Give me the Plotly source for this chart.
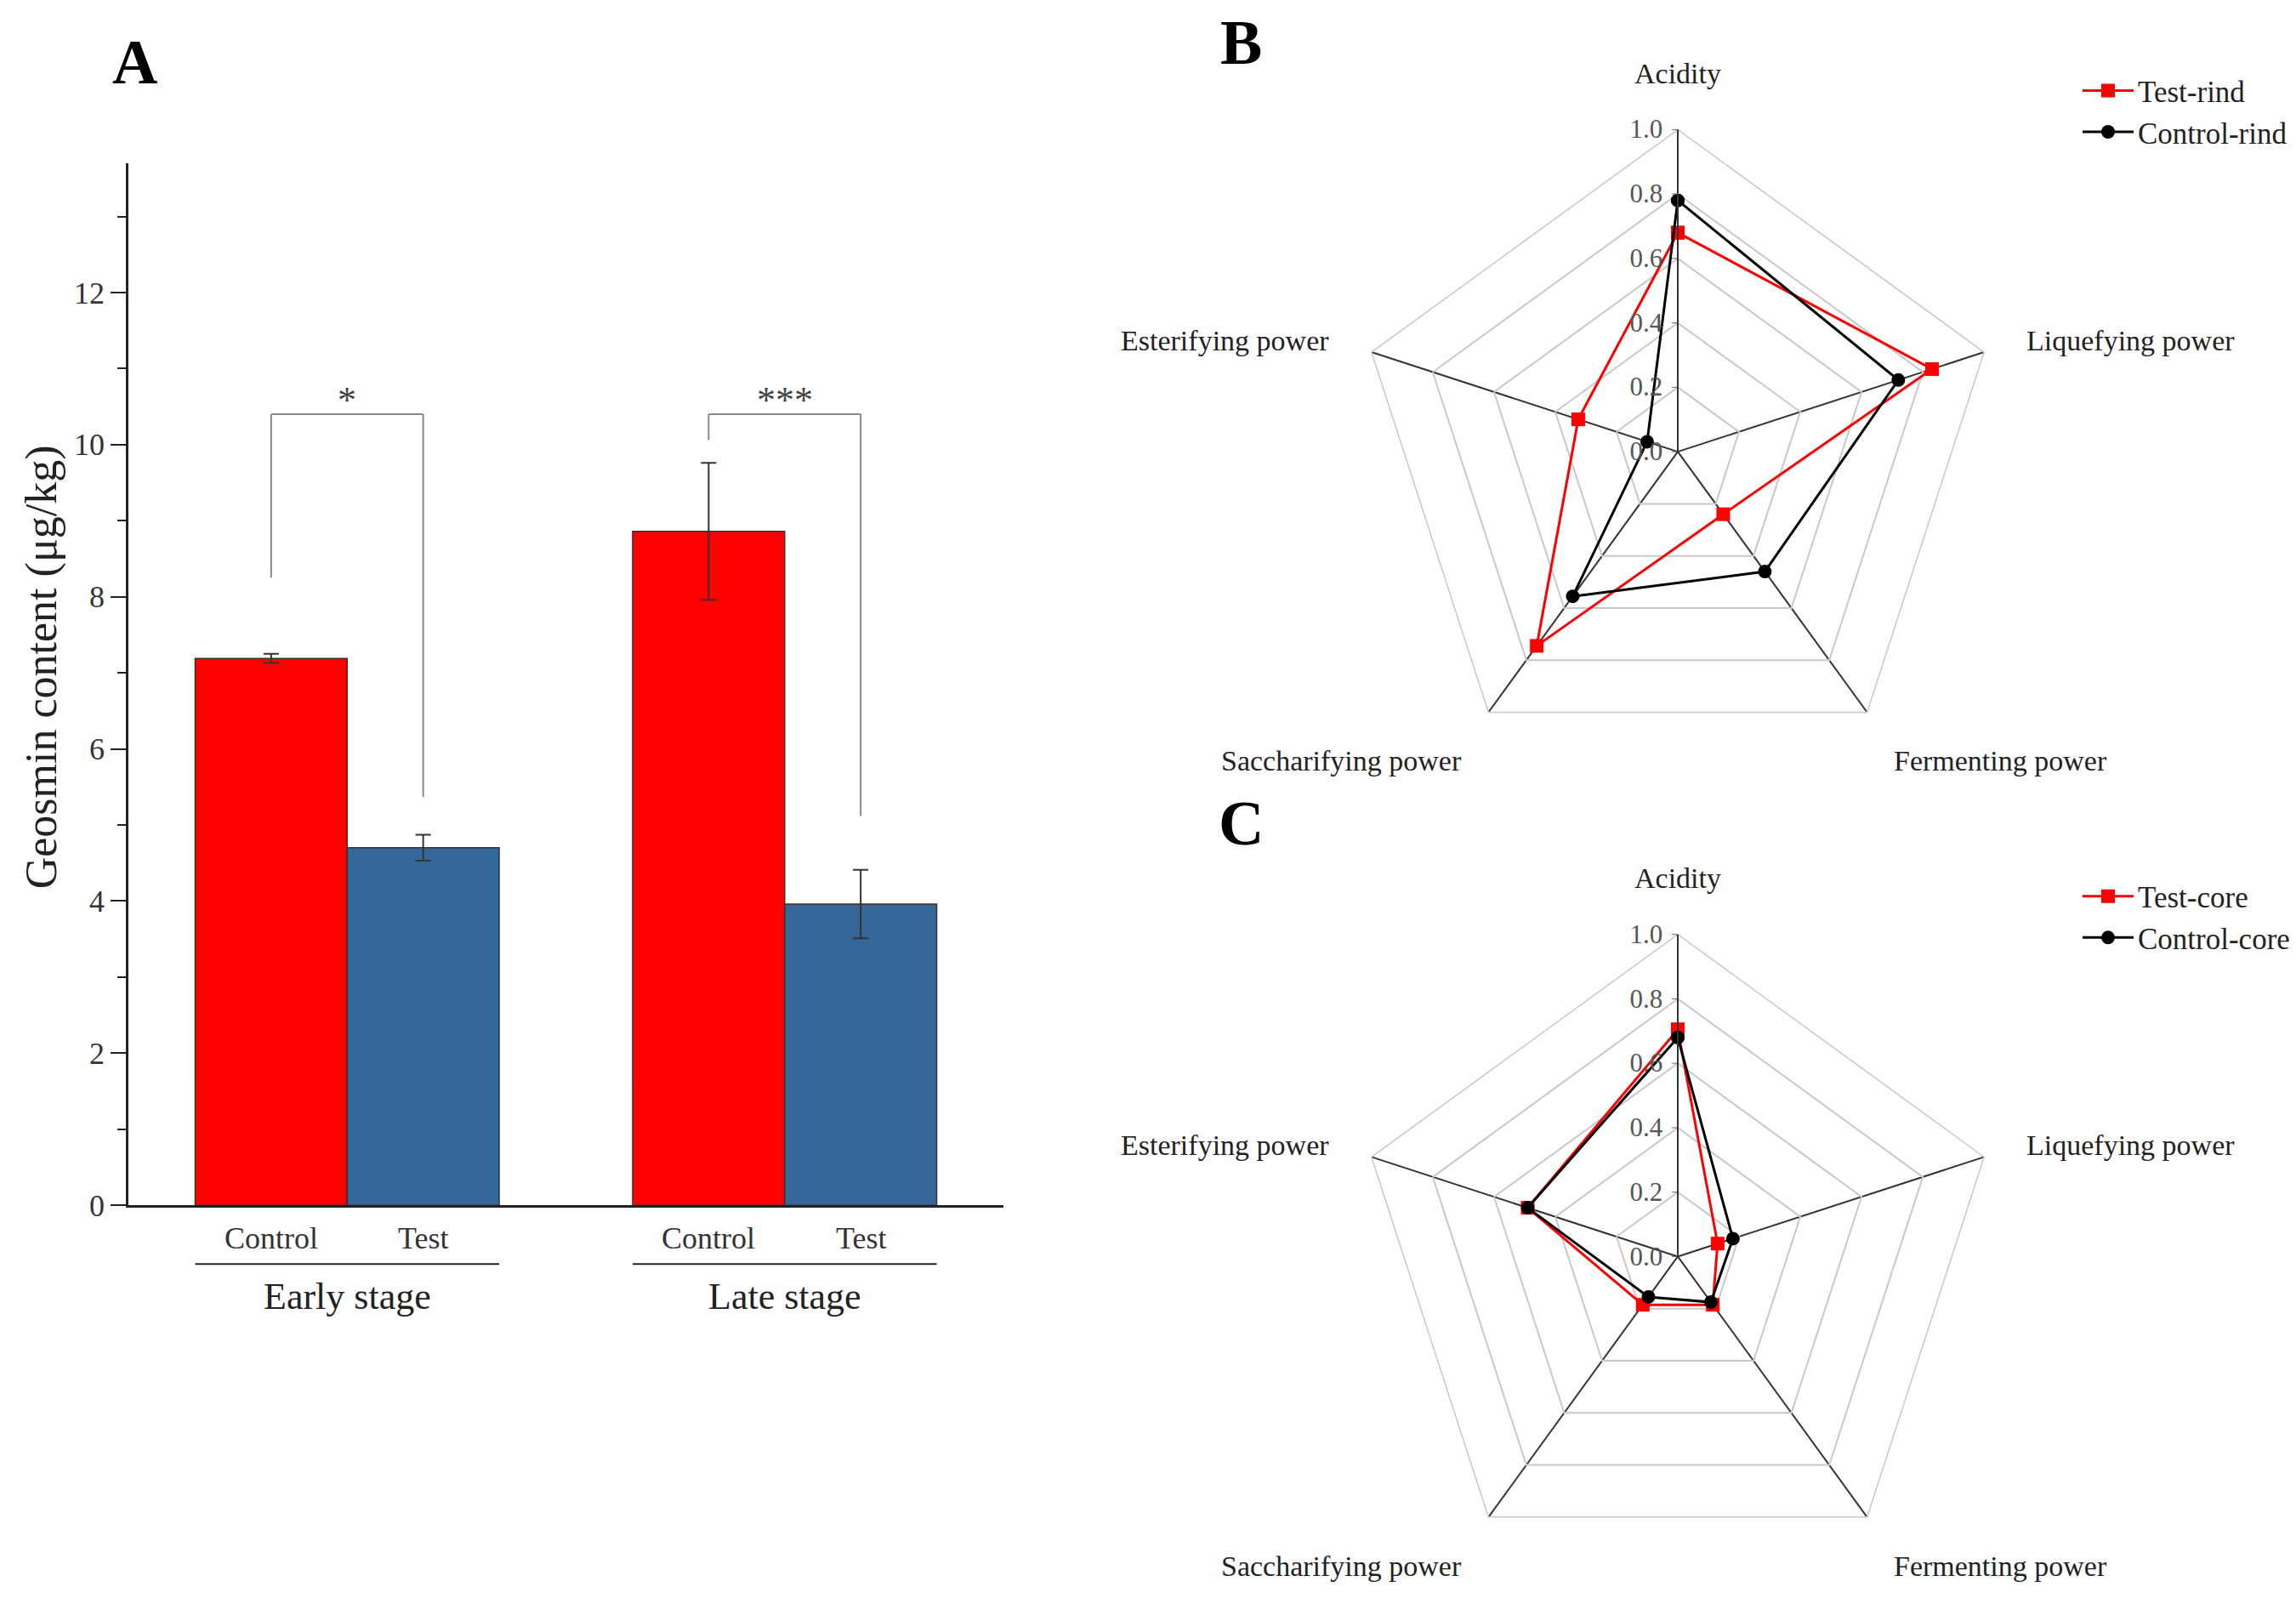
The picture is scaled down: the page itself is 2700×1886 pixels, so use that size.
import math
import plotly.graph_objects as go

W, H = 2700, 1886
FONT = "Liberation Serif"

# ---------------- Panel A data ----------------
stages = ["Early stage", "Late stage"]
treatments = ["Control", "Test"]
control_mean = [7.19, 8.86]
control_err = [0.06, 0.90]
test_mean = [4.70, 3.96]
test_err = [0.17, 0.45]
y_ticks = [0, 2, 4, 6, 8, 10, 12]
sig_labels = ["*", "***"]
bracket_top = [10.40, 10.40]
bracket_left_end = [8.25, 10.06]
bracket_right_end = [5.37, 5.12]

# ---------------- Panel B / C data ----------------
radar_axes = ["Acidity", "Liquefying power", "Fermenting power",
              "Saccharifying power", "Esterifying power"]
test_rind = [0.68, 0.83, 0.24, 0.745, 0.325]
control_rind = [0.78, 0.72, 0.46, 0.555, 0.10]
test_core = [0.705, 0.13, 0.185, 0.185, 0.49]
control_core = [0.68, 0.18, 0.175, 0.155, 0.49]
radial_ticks = [0.0, 0.2, 0.4, 0.6, 0.8, 1.0]

RED = "#FF0000"
BLUE = "#336699"
DARK = "#222222"


def px(x):
    return x / W


def py(y):
    return 1 - y / H


fig = go.Figure()

# ---------------- Panel A ----------------
BARGAP = 0.305
off = (1 - BARGAP) / 4  # offset of each bar centre from the group centre
xs = list(range(len(stages)))

fig.add_bar(x=xs, y=control_mean, name="Control", showlegend=False,
            marker=dict(color=RED, line=dict(color="#333333", width=1.5)),
            error_y=dict(type="data", array=control_err, color="#333333",
                         thickness=2, width=9),
            xaxis="x", yaxis="y")
fig.add_bar(x=xs, y=test_mean, name="Test", showlegend=False,
            marker=dict(color=BLUE, line=dict(color="#333333", width=1.5)),
            error_y=dict(type="data", array=test_err, color="#333333",
                         thickness=2, width=9),
            xaxis="x", yaxis="y")

shapes = []
annotations = []
for i in xs:
    xl, xr = i - off, i + off
    for (x0, y0, x1, y1) in [(xl, bracket_left_end[i], xl, bracket_top[i]),
                             (xl, bracket_top[i], xr, bracket_top[i]),
                             (xr, bracket_top[i], xr, bracket_right_end[i])]:
        shapes.append(dict(type="line", xref="x", yref="y", x0=x0, y0=y0,
                           x1=x1, y1=y1, line=dict(color="#888888", width=2)))
    annotations.append(dict(x=i, y=bracket_top[i], xref="x", yref="y",
                            text=sig_labels[i], showarrow=False,
                            xanchor="center", yanchor="bottom", yshift=-10,
                            font=dict(family=FONT, size=44, color="#444444")))
    for j, t in enumerate(treatments):
        annotations.append(dict(x=i + (2 * j - 1) * off, y=py(1464), xref="x",
                                yref="paper", text=t, showarrow=False,
                                xanchor="center", yanchor="middle",
                                font=dict(family=FONT, size=36, color="#333333")))
    shapes.append(dict(type="line", xref="x", yref="paper",
                       x0=i - 2 * off, x1=i + 2 * off, y0=py(1495), y1=py(1495),
                       line=dict(color=DARK, width=2)))
    annotations.append(dict(x=i, y=py(1534), xref="x", yref="paper",
                            text=stages[i], showarrow=False,
                            xanchor="center", yanchor="middle",
                            font=dict(family=FONT, size=44, color="#222222")))

annotations.append(dict(x=px(41), y=py(785), xref="paper", yref="paper",
                        text="Geosmin content (μg/kg)", textangle=-90,
                        showarrow=False, xanchor="center", yanchor="middle",
                        font=dict(family=FONT, size=52, color="#222222")))

# panel letters
for letter, (lx, ly) in {"A": (150, 66), "B": (1451, 42), "C": (1451, 971)}.items():
    annotations.append(dict(x=px(lx), y=py(ly), xref="paper", yref="paper",
                            text=f"<b>{letter}</b>", showarrow=False,
                            xanchor="center", yanchor="middle",
                            font=dict(family=FONT, size=74, color="#000000")))

# ---------------- Radar panels ----------------
R = 383
centers = {"polar": (1965, 529), "polar2": (1965, 1486)}
radar_sets = [
    ("polar", "legend", [("Test-rind", test_rind, RED, "square"),
                         ("Control-rind", control_rind, "#000000", "circle")]),
    ("polar2", "legend2", [("Test-core", test_core, RED, "square"),
                           ("Control-core", control_core, "#000000", "circle")]),
]
for subplot, leg, series in radar_sets:
    for name, vals, col, sym in series:
        fig.add_trace(go.Scatterpolar(
            r=vals + vals[:1], theta=radar_axes + radar_axes[:1],
            mode="lines+markers", name=name, subplot=subplot, legend=leg,
            line=dict(color=col, width=3),
            marker=dict(color=col, symbol=sym, size=16)))

polar_common = dict(
    bgcolor="white", gridshape="linear",
    radialaxis=dict(range=[0, 1], tickvals=radial_ticks, tickformat=".1f",
                    angle=90, tickangle=90, side="counterclockwise",
                    showline=True, linecolor="#333333", linewidth=2,
                    gridcolor="#c8c8c8", gridwidth=1.5, ticks="outside",
                    ticklen=6, tickcolor="#666666",
                    tickfont=dict(family=FONT, size=31, color="#555555")),
    angularaxis=dict(direction="clockwise", rotation=90, showticklabels=False,
                     ticks="", showline=True, linecolor="#c8c8c8", linewidth=1.5,
                     gridcolor="#333333", gridwidth=2),
)
polar_layouts = {}
for subplot, (cx, cy) in centers.items():
    d = dict(polar_common)
    d["domain"] = dict(x=[px(cx - R), px(cx + R)], y=[py(cy + R), py(cy - R)])
    polar_layouts[subplot] = d

    # category labels around the pentagon
    n = len(radar_axes)
    for k, lab in enumerate(radar_axes):
        ang = math.radians(90 - 360 * k / n)
        dx, dy = math.cos(ang), math.sin(ang)
        lx = cx + 1.12 * R * dx
        ly = cy - 1.12 * R * dy
        xa = "left" if dx > 0.1 else ("right" if dx < -0.1 else "center")
        ya = "bottom" if dy > 0.9 else ("top" if dy < -0.5 else "middle")
        annotations.append(dict(x=px(lx), y=py(ly), xref="paper", yref="paper",
                                text=lab, showarrow=False, xanchor=xa,
                                yanchor=ya,
                                font=dict(family=FONT, size=34, color="#222222")))

legend_common = dict(font=dict(family=FONT, size=35, color="#222222"),
                     bgcolor="rgba(0,0,0,0)", xanchor="left", yanchor="top",
                     tracegroupgap=0, itemwidth=60)

fig.update_layout(
    width=W, height=H,
    margin=dict(l=0, r=0, t=0, b=0),
    paper_bgcolor="white", plot_bgcolor="white",
    font=dict(family=FONT, color="#222222"),
    barmode="group", bargap=BARGAP, bargroupgap=0,
    xaxis=dict(domain=[px(143), px(1172)], range=[-0.5, 1.5], showline=True,
               linecolor=DARK, linewidth=2.5, showticklabels=False, ticks="",
               showgrid=False, zeroline=False, anchor="y"),
    yaxis=dict(domain=[py(1425), py(186)], range=[0, 13.7], tickvals=y_ticks,
               ticks="outside", ticklen=18, tickwidth=2, tickcolor=DARK,
               showline=True, linecolor=DARK, linewidth=2.5,
               minor=dict(dtick=1, ticks="outside", ticklen=10, tickwidth=2,
                          tickcolor=DARK),
               showgrid=False, zeroline=False, anchor="x",
               tickfont=dict(family=FONT, size=36, color="#333333")),
    polar=polar_layouts["polar"],
    polar2=polar_layouts["polar2"],
    legend=dict(legend_common, x=px(2436), y=py(70)),
    legend2=dict(legend_common, x=px(2436), y=py(1028)),
    shapes=shapes,
    annotations=annotations,
)

fig.write_html("out.html")
